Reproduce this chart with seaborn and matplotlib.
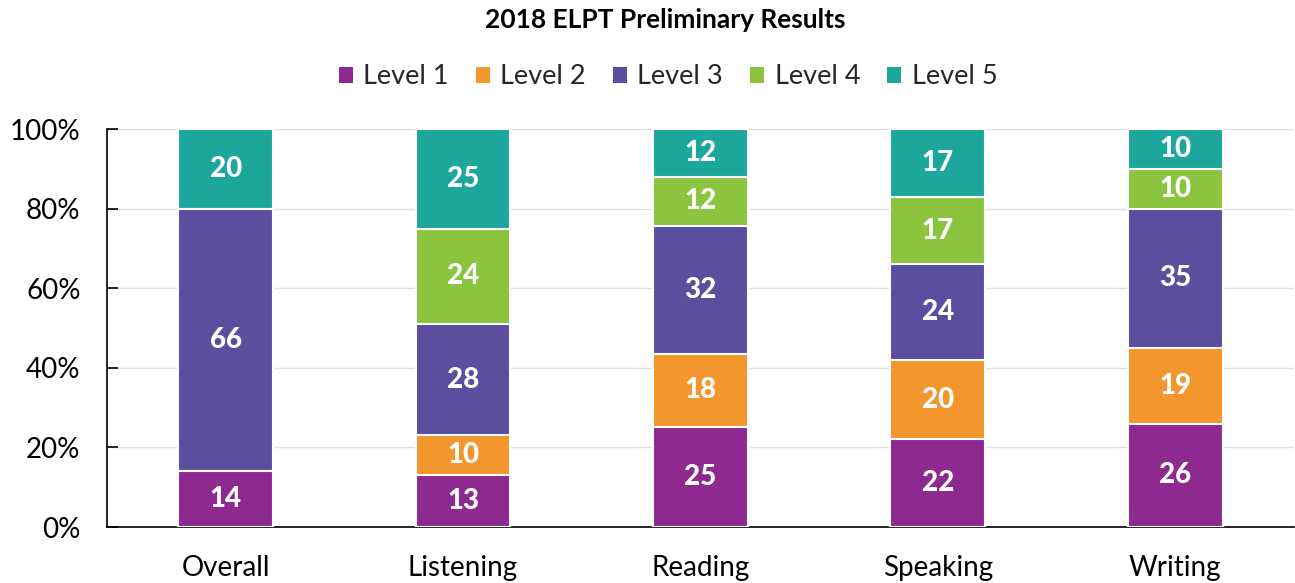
import numpy as np
import pandas as pd
import matplotlib
matplotlib.use("Agg")
import matplotlib.pyplot as plt
import seaborn as sns
from matplotlib.patches import Patch

categories = ["Overall", "Listening", "Reading", "Speaking", "Writing"]
levels = ["Level 1", "Level 2", "Level 3", "Level 4", "Level 5"]
level1 = [14, 13, 25, 22, 26]
level2 = [0, 10, 18, 20, 19]
level3 = [66, 28, 32, 24, 35]
level4 = [0, 24, 12, 17, 10]
level5 = [20, 25, 12, 17, 10]
colors = ["#8E2A8F", "#F3962D", "#5B4E9F", "#8BC540", "#1DA69C"]
title = "2018 ELPT Preliminary Results"

sns.set_theme(style="white")
plt.rcParams["font.family"] = ["Lato", "DejaVu Sans"]

vals = np.array([level1, level2, level3, level4, level5], dtype=float)
pct = vals / vals.sum(axis=0) * 100
cum = np.cumsum(pct, axis=0)

fig = plt.figure(figsize=(12.95, 5.83), dpi=100)
ax = fig.add_axes([0.0826, 0.096, 0.9164, 0.6827])

for i in range(len(levels) - 1, -1, -1):
    df = pd.DataFrame({"cat": categories, "top": cum[i]})
    sns.barplot(data=df, x="cat", y="top", order=categories, color=colors[i],
                saturation=1, width=0.4, edgecolor="white", linewidth=1.5,
                ax=ax, zorder=3)

for j, cat in enumerate(categories):
    for i in range(len(levels)):
        if vals[i, j] > 0:
            ymid = cum[i, j] - pct[i, j] / 2
            ax.text(j, ymid, f"{int(vals[i, j])}", ha="center", va="center",
                    color="white", fontsize=20, fontweight="black", zorder=5)

ax.set_ylim(0, 100)
ax.set_xlim(-0.5, 4.5)
ax.set_yticks([0, 20, 40, 60, 80, 100])
ax.set_yticklabels(["0%", "20%", "40%", "60%", "80%", "100%"])
ax.yaxis.grid(True, color="#E0E0E0", linewidth=1, zorder=0)
ax.set_axisbelow(True)
ax.set_xlabel("")
ax.set_ylabel("")
for s in ["top", "right"]:
    ax.spines[s].set_visible(False)
ax.spines["left"].set_color("black")
ax.spines["bottom"].set_color("black")
ax.spines["left"].set_linewidth(1.2)
ax.spines["bottom"].set_linewidth(1.2)
ax.tick_params(axis="y", which="major", left=True, direction="in", length=8,
               width=1.2, color="black", labelsize=20, pad=19, labelcolor="black")
ax.tick_params(axis="x", bottom=False, labelsize=20, pad=14, labelcolor="black")

fig.text(0.514, 0.965, title, ha="center", va="center", fontsize=19,
         fontweight="bold", color="black")
handles = [Patch(facecolor=c, edgecolor="none") for c in colors]
fig.legend(handles, levels, loc="center", bbox_to_anchor=(0.516, 0.868),
           ncol=5, frameon=False, fontsize=19.5, handlelength=0.5,
           handleheight=0.5, handletextpad=0.4, columnspacing=1.0)

fig.savefig("out.png", dpi=100)
